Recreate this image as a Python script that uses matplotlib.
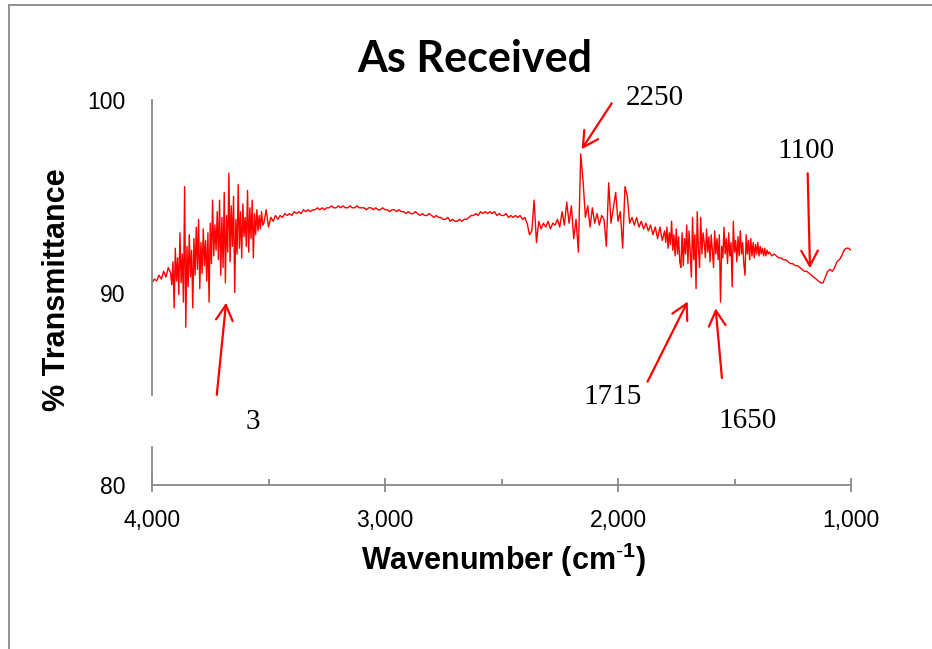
import numpy as np
import matplotlib
matplotlib.use("Agg")
import matplotlib.pyplot as plt
from matplotlib.lines import Line2D
from matplotlib.ticker import FuncFormatter, MultipleLocator

plt.rcParams['mathtext.fontset'] = 'custom'
plt.rcParams['mathtext.rm'] = 'Liberation Sans'
plt.rcParams['mathtext.bf'] = 'Liberation Sans:bold'

# spectrum; finer steps where the trace is noisy
wavenumber = np.concatenate([
    np.arange(4000, 3920, -10),   # 8 points
    np.arange(3920, 3520, -5),    # 80 points
    np.arange(3520, 1800, -10),   # 172 points
    np.arange(1800, 1350, -5),    # 90 points
    np.arange(1350, 999, -10),    # 36 points
])
transmittance = [
    # 4000 - 3930
    90.5, 90.7, 90.6, 90.9, 90.7, 91.1, 90.8, 91.3,
    # 3920 - 3525
    91.0, 90.4, 91.6, 89.2, 92.3, 90.6, 91.8, 89.9, 93.1, 90.5,
    92.0, 89.5, 95.5, 88.2, 92.4, 90.3, 93.0, 90.8, 92.2, 89.2,
    92.8, 90.9, 93.4, 91.2, 93.8, 90.2, 92.6, 91.0, 93.3, 91.4,
    92.7, 90.6, 93.1, 89.5, 93.6, 91.5, 94.8, 91.9, 93.5, 92.2,
    94.2, 91.7, 94.8, 90.9, 93.9, 91.3, 95.2, 90.5, 94.0, 92.1,
    96.2, 91.6, 94.5, 92.4, 95.0, 90.0, 93.8, 92.0, 95.6, 92.3,
    94.2, 91.8, 94.6, 92.9, 93.9, 92.4, 95.3, 92.1, 94.4, 92.8,
    94.8, 91.8, 94.1, 93.0, 94.3, 93.2, 94.0, 93.3, 94.2, 93.5,
    # 3520 - 1810
    93.6, 94.3,
    93.4, 93.9, 93.7, 94.0, 93.8, 94.0, 93.9, 94.1, 94.0, 94.1,
    94.0, 94.2, 94.1, 94.2, 94.1, 94.3, 94.2, 94.3, 94.2, 94.3,
    94.3, 94.4, 94.3, 94.4, 94.3, 94.4, 94.4, 94.5, 94.4, 94.4,
    94.5, 94.4, 94.5, 94.4, 94.4, 94.5, 94.4, 94.4, 94.5, 94.4,
    94.4, 94.4, 94.3, 94.4, 94.4, 94.3, 94.4, 94.3, 94.3, 94.4,
    94.3, 94.3, 94.2, 94.3, 94.3, 94.2, 94.3, 94.2, 94.2, 94.1,
    94.2, 94.1, 94.1, 94.2, 94.1, 94.0, 94.1, 94.0, 94.0, 94.1,
    94.0, 93.9, 94.0, 93.9, 93.9, 93.8, 93.8, 93.9, 93.7, 93.8,
    93.7, 93.7, 93.8, 93.7, 93.8, 93.8, 93.9, 94.0, 94.0, 94.1,
    94.0, 94.2, 94.1, 94.2, 94.1, 94.2, 94.1, 94.2, 94.0, 94.1,
    94.0, 94.0, 94.1, 93.9, 94.0, 93.9, 94.0, 93.9, 94.0, 93.8,
    93.9, 93.6, 93.0, 93.2, 94.8, 92.6, 93.7, 93.3, 93.6, 93.4,
    93.7, 93.3, 93.6, 93.5, 93.8, 93.4, 94.2, 93.5, 94.7, 93.6,
    94.5, 92.8, 93.8, 92.1, 97.2, 95.8, 93.9, 94.5, 93.4, 94.4,
    93.6, 94.1, 93.5, 94.0, 93.8, 92.4, 95.7, 93.6, 94.4, 95.2,
    93.7, 94.2, 92.3, 95.5, 95.0, 93.6, 93.9, 93.5, 93.9, 93.4,
    93.7, 93.3, 93.6, 93.2, 93.5, 93.0, 93.4, 92.8, 93.4, 92.7,
    # 1800 - 1355
    93.2, 92.6, 93.4, 92.3, 93.1, 92.5, 93.7, 92.2, 93.0, 91.9,
    93.3, 92.0, 92.9, 91.6, 91.3, 93.1, 91.4, 92.8, 92.0, 93.5,
    91.5, 93.2, 92.1, 90.8, 93.9, 91.7, 93.0, 90.2, 94.2, 92.3,
    91.3, 93.9, 92.0, 93.1, 92.6, 91.8, 93.3, 92.1, 92.9, 91.6,
    93.0, 92.2, 91.3, 93.2, 92.0, 92.8, 91.7, 93.0, 89.5, 92.4,
    91.8, 93.4, 92.0, 92.8, 91.5, 93.1, 91.9, 92.6, 90.3, 93.7,
    92.1, 92.7, 91.6, 92.9, 91.9, 93.2, 92.0, 92.6, 91.5, 90.9,
    93.0, 92.0, 92.7, 91.7, 92.8, 91.9, 92.6, 91.8, 92.5, 92.0,
    92.6, 91.9, 92.4, 92.0, 92.3, 91.9, 92.3, 91.9, 92.2, 92.0,
    # 1350 - 1000
    92.1, 91.9, 92.0, 91.9, 91.8,
    91.8, 91.7, 91.7, 91.6, 91.5, 91.5, 91.4, 91.4, 91.3, 91.2,
    91.1, 91.1, 91.0, 90.9, 90.8, 90.7, 90.6, 90.5, 90.5, 90.8,
    91.1, 91.2, 91.1, 91.3, 91.6, 91.7, 91.9, 92.2, 92.3, 92.3,
    92.2,
]

# peak callouts: label, label position, arrow tail, arrow head
peak_labels = ["2250", "1100", "1715", "1650", "3"]
label_pos = [(1841, 100.1), (1193, 97.35), (2021, 84.57), (1442, 83.32), (3569, 83.25)]
arrow_tail = [(2027, 99.83), (1186, 96.19), (1873, 85.37), (1554, 85.56), (3722, 84.68)]
arrow_head = [(2156, 97.44), (1176, 91.26), (1701, 89.53), (1581, 89.18), (3682, 89.47)]

axis_grey = "#898989"

fig = plt.figure(figsize=(9.32, 6.49), dpi=100)
# outer chart-area border (only left and top fall inside the picture)
fig.add_artist(Line2D([9 / 932, 9 / 932], [0, 1 - 5 / 649], color=axis_grey, lw=1.3))
fig.add_artist(Line2D([9 / 932, 1], [1 - 5 / 649, 1 - 5 / 649], color=axis_grey, lw=1.3))

ax = fig.add_axes([152 / 932, 164 / 649, 699 / 932, 385 / 649])
ax.plot(wavenumber, transmittance, color="red", linewidth=1.0)

ax.set_xlim(4000, 1000)
ax.set_ylim(80, 100)
for s in ["top", "right", "left"]:
    ax.spines[s].set_visible(False)
ax.spines["bottom"].set_color(axis_grey)
ax.spines["bottom"].set_linewidth(1.3)

# y axis line is broken where the "3" label sits
ax.plot([4000, 4000], [84.68, 100], color=axis_grey, lw=1.3, clip_on=False)
ax.plot([4000, 4000], [80, 81.97], color=axis_grey, lw=1.3, clip_on=False)

ax.set_yticks([80, 90, 100])
ax.tick_params(axis="y", length=0, pad=19, labelsize=16.5)
ax.set_xticks([4000, 3000, 2000, 1000])
ax.xaxis.set_minor_locator(MultipleLocator(500))
ax.xaxis.set_major_formatter(FuncFormatter(lambda v, p: f"{v:,.0f}"))
ax.tick_params(axis="x", which="major", direction="inout", length=10,
               width=1.3, color=axis_grey, pad=12, labelsize=16.5)
ax.tick_params(axis="x", which="minor", direction="in", length=4.5,
               width=1.3, color=axis_grey)
for lab in ax.get_xticklabels() + ax.get_yticklabels():
    lab.set_fontfamily("Liberation Sans")

for i in range(len(peak_labels)):
    ax.annotate("", xy=arrow_head[i], xytext=arrow_tail[i],
                arrowprops=dict(arrowstyle="->,head_length=0.55,head_width=0.3",
                                color="red", lw=1.6, mutation_scale=20,
                                shrinkA=0, shrinkB=0),
                annotation_clip=False)
    ax.text(label_pos[i][0], label_pos[i][1], peak_labels[i], ha="center",
            va="center", fontsize=21, family="Liberation Serif", clip_on=False)

fig.text(475 / 932, 1 - 72 / 649, "As Received", ha="center", va="baseline",
         fontsize=31, fontweight="bold", family="Lato")
fig.text(503 / 932, 1 - 570 / 649, r"Wavenumber (cm$^{\text{-}\mathbf{1}}$)", ha="center",
         va="baseline", fontsize=22, fontweight="bold", family="Liberation Sans")
fig.text(72 / 932, 1 - 290 / 649, "% Transmittance", rotation=90, ha="right",
         va="center", fontsize=22, fontweight="bold", family="Liberation Sans")

fig.savefig("out.png", dpi=100)
